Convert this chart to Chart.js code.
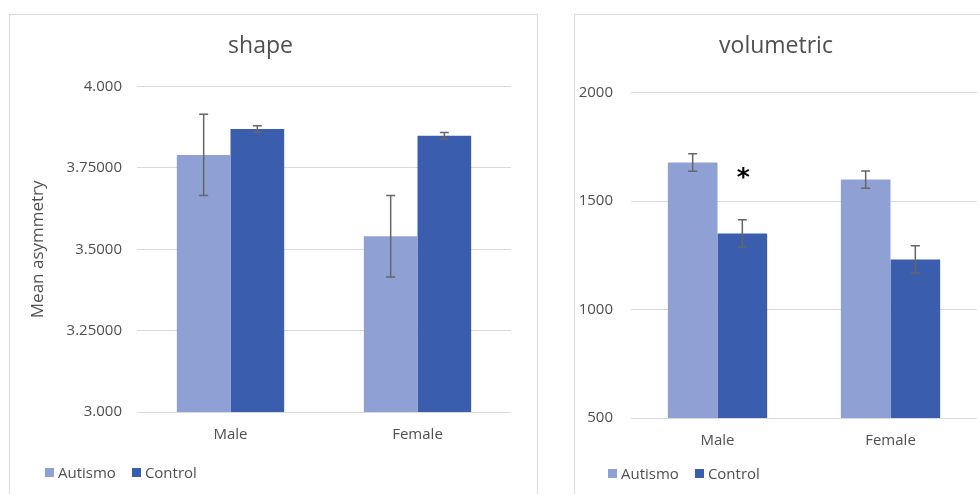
<!DOCTYPE html>
<html>
<head>
<meta charset="utf-8">
<script src="https://cdn.jsdelivr.net/npm/chart.js@4.4.1/dist/chart.umd.min.js"></script>
<style>
  html, body { margin: 0; padding: 0; background: #fff; width: 980px; height: 494px; overflow: hidden; }
  body { font-family: "Open Sans", sans-serif; position: relative; }
  .panel { position: absolute; border: 1px solid #D9D9D9; box-sizing: border-box; background: #fff; }
  #panelShape { left: 9px; top: 14px; width: 529px; height: 500px; }
  #panelVol { left: 574px; top: 14px; width: 420px; height: 500px; }
  .panel canvas { position: absolute; left: 0; top: 0; }
  .legend { position: absolute; display: flex; align-items: center; font-size: 15px; line-height: 20px; color: #505050; white-space: nowrap; }
  .legend .item { display: flex; align-items: center; margin-right: 16px; }
  .legend .sw { display: inline-block; width: 9px; height: 9px; margin-right: 4px; }
</style>
</head>
<body>
<div class="panel" id="panelShape"><canvas id="shapeChart" width="527" height="479"></canvas></div>
<div class="panel" id="panelVol"><canvas id="volChart" width="405" height="479"></canvas></div>
<div class="legend" id="legendShape" style="left:45px; top:462px;"></div>
<div class="legend" id="legendVol" style="left:608px; top:463px;"></div>

<script>
// Groups and series
const categories = ['Male', 'Female'];
const seriesNames = ['Autismo', 'Control'];
const seriesColors = ['#8FA0D4', '#3A5DAE'];

// Shape asymmetry: means and error half-widths
const shapeAutismo = [3.790, 3.540];
const shapeControl = [3.870, 3.849];
const shapeAutismoErr = [0.125, 0.125];
const shapeControlErr = [0.010, 0.010];
const shapeTickLabels = ['3.000', '3.25000', '3.5000', '3.75000', '4.000'];

// Volumetric asymmetry: means and error half-widths
const volAutismo = [1678, 1599];
const volControl = [1351, 1231];
const volAutismoErr = [40, 40];
const volControlErr = [63, 63];
const volTickLabels = ['500', '1000', '1500', '2000'];

// Significance marks drawn above the Control bar of each group
const volSigMarks = ['*', ''];
const volSigLevel = 1628;

const textColor = '#505050';
Chart.defaults.font.family = '"Open Sans", sans-serif';
Chart.defaults.color = textColor;

// Draws the +/- error whiskers on each bar
const errorBars = {
  id: 'errorBars',
  afterDatasetsDraw(chart) {
    const { ctx } = chart;
    const y = chart.scales.y;
    ctx.save();
    ctx.strokeStyle = '#666666';
    ctx.lineWidth = 1.5;
    chart.data.datasets.forEach((ds, i) => {
      const meta = chart.getDatasetMeta(i);
      meta.data.forEach((bar, j) => {
        const v = ds.data[j], e = ds.errors[j];
        const yt = y.getPixelForValue(v + e);
        const yb = y.getPixelForValue(v - e);
        const x = bar.x, cap = 4.5;
        ctx.beginPath();
        ctx.moveTo(x, yt); ctx.lineTo(x, yb);
        ctx.moveTo(x - cap, yt); ctx.lineTo(x + cap, yt);
        ctx.moveTo(x - cap, yb); ctx.lineTo(x + cap, yb);
        ctx.stroke();
      });
    });
    ctx.restore();
  }
};

// Draws significance asterisks above the Control bars
const sigMarks = {
  id: 'sigMarks',
  afterDatasetsDraw(chart, args, opts) {
    if (!opts.marks) return;
    const { ctx } = chart;
    const y = chart.scales.y;
    const meta = chart.getDatasetMeta(1);
    ctx.save();
    ctx.fillStyle = '#000';
    ctx.font = 'bold 25px "DejaVu Sans", sans-serif';
    ctx.textAlign = 'center';
    ctx.textBaseline = 'middle';
    opts.marks.forEach((m, j) => {
      if (!m) return;
      ctx.fillText(m, meta.data[j].x + 1, y.getPixelForValue(opts.level) + 5);
    });
    ctx.restore();
  }
};

function makeChart(id, cfg) {
  return new Chart(document.getElementById(id), {
    type: 'bar',
    data: {
      labels: categories,
      datasets: [
        { label: seriesNames[0], data: cfg.a, errors: cfg.aErr, backgroundColor: seriesColors[0], barPercentage: 1, categoryPercentage: 0.574 },
        { label: seriesNames[1], data: cfg.c, errors: cfg.cErr, backgroundColor: seriesColors[1], barPercentage: 1, categoryPercentage: 0.574 }
      ]
    },
    options: {
      responsive: false,
      animation: false,
      layout: { padding: { left: 0, right: cfg.padRight, top: 0, bottom: cfg.padBottom } },
      plugins: {
        legend: { display: false },
        tooltip: { enabled: false },
        title: {
          display: true,
          text: cfg.title,
          color: textColor,
          font: { size: 23, weight: 'normal' },
          padding: { top: 18, bottom: cfg.titleBottom }
        },
        sigMarks: { marks: cfg.marks, level: cfg.level }
      },
      scales: {
        x: {
          grid: { display: false, drawTicks: false },
          border: { display: false },
          ticks: { font: { size: 15 }, color: textColor, padding: 14 },
          afterFit(s) { s.height = 40; }
        },
        y: {
          min: cfg.min, max: cfg.max,
          grid: { color: '#D9D9D9', lineWidth: 1, drawTicks: false },
          border: { display: false },
          ticks: {
            stepSize: cfg.step,
            font: { size: 15 }, color: textColor, padding: cfg.tickPad,
            callback: (v, i) => cfg.tickLabels[i]
          },
          title: cfg.yTitle ? {
            display: true, text: cfg.yTitle, color: textColor,
            font: { size: 17 }, padding: { top: 18, bottom: 0 }
          } : { display: false },
          afterFit(s) { s.width = cfg.yWidth; }
        }
      }
    },
    plugins: [errorBars, sigMarks]
  });
}

makeChart('shapeChart', {
  title: 'shape', a: shapeAutismo, c: shapeControl, aErr: shapeAutismoErr, cErr: shapeControlErr,
  min: 3, max: 4, step: 0.25, tickLabels: shapeTickLabels, yTitle: 'Mean asymmetry',
  yWidth: 127, tickPad: 15, padRight: 26, padBottom: 42, titleBottom: 26
});

makeChart('volChart', {
  title: 'volumetric', a: volAutismo, c: volControl, aErr: volAutismoErr, cErr: volControlErr,
  min: 500, max: 2000, step: 500, tickLabels: volTickLabels, yTitle: null,
  yWidth: 56, tickPad: 18, padRight: 3, padBottom: 36, titleBottom: 32,
  marks: volSigMarks, level: volSigLevel
});

// Legend rows under each chart
function buildLegend(id) {
  const el = document.getElementById(id);
  seriesNames.forEach((name, i) => {
    const item = document.createElement('span');
    item.className = 'item';
    const sw = document.createElement('span');
    sw.className = 'sw';
    sw.style.background = seriesColors[i];
    item.appendChild(sw);
    item.appendChild(document.createTextNode(name));
    el.appendChild(item);
  });
}
buildLegend('legendShape');
buildLegend('legendVol');
</script>
</body>
</html>
